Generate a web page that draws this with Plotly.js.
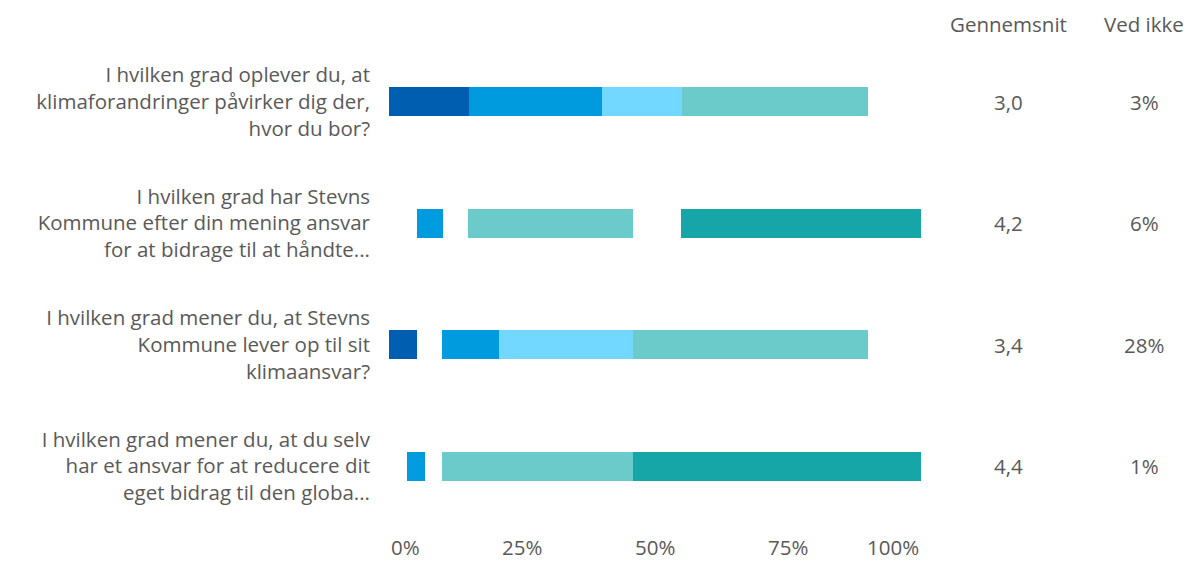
<!DOCTYPE html>
<html>
<head>
<meta charset="utf-8">
<script src="https://cdn.plot.ly/plotly-3.0.1.min.js"></script>
<style>html,body{margin:0;padding:0;background:#fff;}#chart{width:1192px;height:561px;}</style>
</head>
<body>
<div id="chart"></div>
<script>
// Questions (y categories, top to bottom)
const questions = [
  "I hvilken grad oplever du, at<br>klimaforandringer påvirker dig der,<br>hvor du bor?",
  "I hvilken grad har Stevns<br>Kommune efter din mening ansvar<br>for at bidrage til at håndte...",
  "I hvilken grad mener du, at Stevns<br>Kommune lever op til sit<br>klimaansvar?",
  "I hvilken grad mener du, at du selv<br>har et ansvar for at reducere dit<br>eget bidrag til den globa..."
];
// Stacked segments (percent), in drawing order; "gap" segments are blank space
const darkBlue  = [15, 0, 5.2, 0];
const gapA      = [0, 5.2, 4.8, 3.4];
const blue      = [25, 5.0, 10.7, 3.4];
const gapB      = [0, 4.6, 0, 3.2];
const lightBlue = [15, 0, 25.1, 0];
const teal      = [35, 31.0, 44.2, 35.8];
const gapC      = [0, 9.1, 0, 0];
const darkTeal  = [0, 45.1, 0, 54.2];
// Right-hand columns
const averages = ["3,0", "4,2", "3,4", "4,4"];
const dontKnow = ["3%", "6%", "28%", "1%"];
const tickVals = [0, 25, 50, 75, 100];
const tickText = ["0%", "25%", "50%", "75%", "100%"];

const series = [
  {name: "1", x: darkBlue,  color: "#005EB0"},
  {name: "gapA", x: gapA,   color: "rgba(255,255,255,0)"},
  {name: "2", x: blue,      color: "#009BDE"},
  {name: "gapB", x: gapB,   color: "rgba(255,255,255,0)"},
  {name: "3", x: lightBlue, color: "#73D8FF"},
  {name: "4", x: teal,      color: "#6BCBCA"},
  {name: "gapC", x: gapC,   color: "rgba(255,255,255,0)"},
  {name: "5", x: darkTeal,  color: "#16A6A7"}
];

const txt = "#595959";
const fontFam = "'Open Sans', Lato, sans-serif";
const fs = 20.5;

const traces = series.map(s => ({
  type: "bar", orientation: "h", name: s.name,
  x: s.x, y: questions,
  marker: {color: s.color, line: {width: 0}},
  hoverinfo: "skip", showlegend: false
}));

const annotations = [];
annotations.push({xref: "paper", yref: "paper", x: 1.165, y: 1, yshift: 1, text: "Gennemsnit",
  showarrow: false, xanchor: "center", yanchor: "bottom", font: {size: fs, color: txt, family: fontFam}});
annotations.push({xref: "paper", yref: "paper", x: 1.42, y: 1, yshift: 1, text: "Ved ikke",
  showarrow: false, xanchor: "center", yanchor: "bottom", font: {size: fs, color: txt, family: fontFam}});
questions.forEach((q, i) => {
  annotations.push({xref: "paper", yref: "y", x: 1.165, y: q, text: averages[i], showarrow: false,
    xanchor: "center", font: {size: fs, color: txt, family: fontFam}});
  annotations.push({xref: "paper", yref: "y", x: 1.42, y: q, text: dontKnow[i], showarrow: false,
    xanchor: "center", font: {size: fs, color: txt, family: fontFam}});
});
tickVals.forEach((v, i) => {
  annotations.push({xref: "x", yref: "paper", x: v, y: 0, yshift: -4, text: tickText[i], showarrow: false,
    xanchor: i === 0 ? "left" : (i === tickVals.length - 1 ? "right" : "center"), yanchor: "top",
    font: {size: fs, color: txt, family: fontFam}});
});

const layout = {
  width: 1192, height: 561,
  margin: {l: 389, r: 271, t: 41, b: 34, pad: 0},
  barmode: "stack", bargap: 0.76,
  paper_bgcolor: "#fff", plot_bgcolor: "#fff",
  font: {family: fontFam, color: txt, size: fs},
  xaxis: {range: [0, 100], showgrid: false, zeroline: false, showline: false,
          showticklabels: false, ticks: "", fixedrange: true},
  yaxis: {autorange: "reversed", showgrid: false, zeroline: false, showline: false, ticks: "",
          ticklabelstandoff: 18, tickfont: {size: fs, color: txt, family: fontFam}, fixedrange: true},
  annotations: annotations
};

Plotly.newPlot("chart", traces, layout, {displayModeBar: false, staticPlot: true});
</script>
</body>
</html>
